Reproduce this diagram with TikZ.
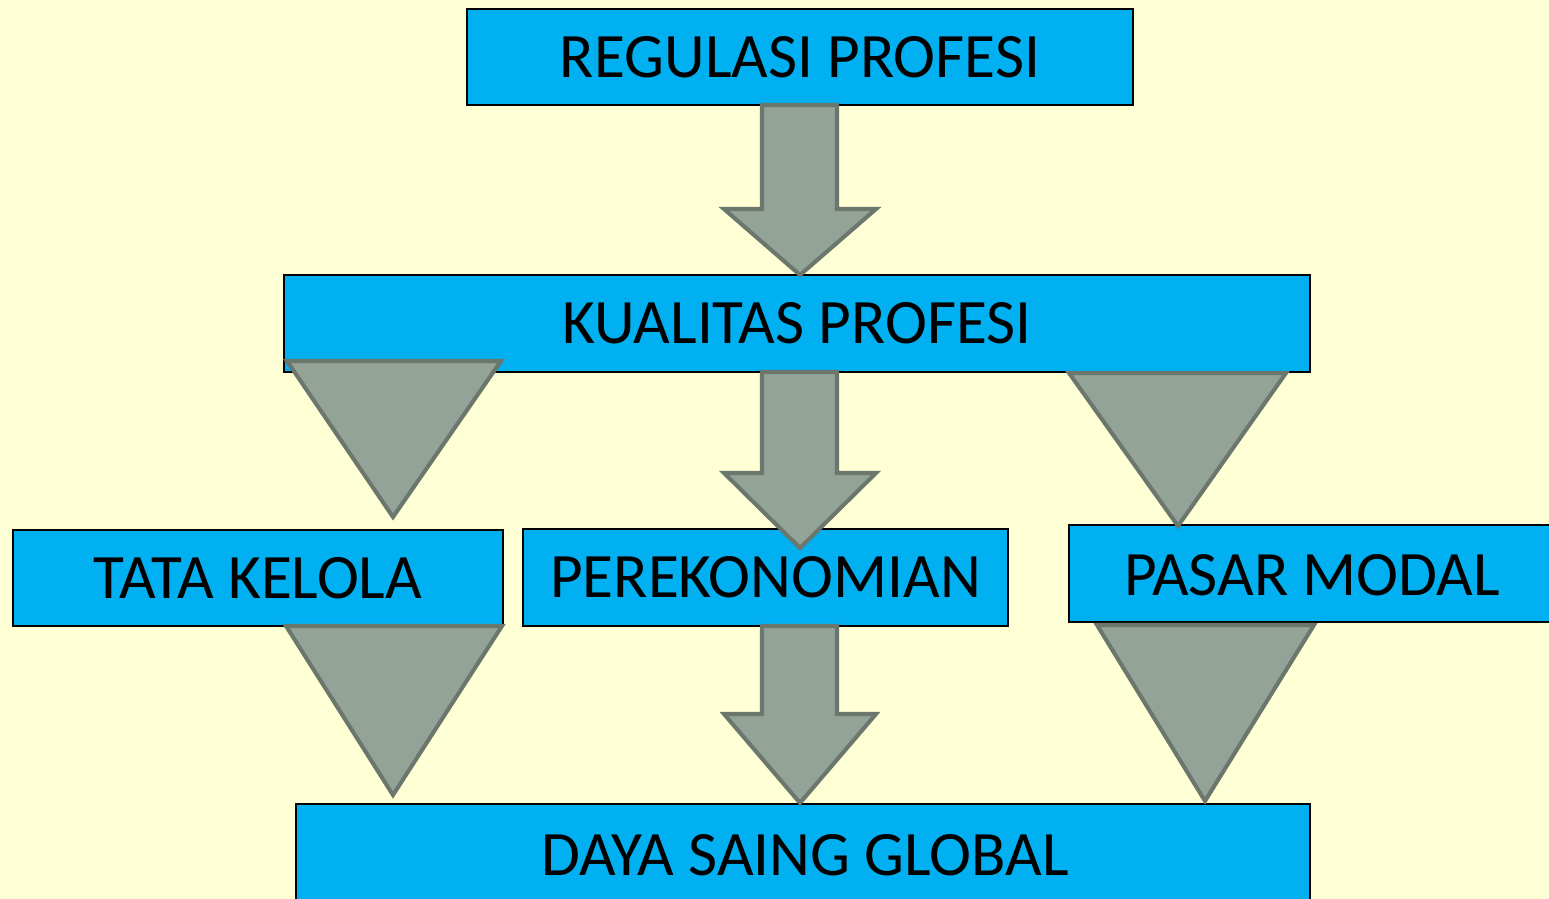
\documentclass[tikz,border=0pt]{standalone}
\usepackage{fontspec}
\setmainfont{Carlito}
\definecolor{bg}{HTML}{FFFFD5}
\definecolor{boxc}{HTML}{00B0F0}
\definecolor{arrf}{HTML}{93A397}
\definecolor{arrd}{HTML}{6B776D}
\tikzset{
  box/.style={draw=black, line width=1pt, fill=boxc, inner sep=0pt, font=\fontsize{36}{40}\selectfont, text=black},
  blk/.style={draw=arrd, fill=arrf, line width=2.3pt, line join=miter}
}
\begin{document}
\begin{tikzpicture}[x=0.02cm, y=-0.02cm]
\useasboundingbox (0,0) rectangle (1549,899);
\clip (0,0) rectangle (1549,899);
\fill[bg] (0,0) rectangle (1549,899);
% boxes
\node[box, minimum width=666*0.02cm, minimum height=96*0.02cm] (reg) at (800,57) {REGULASI PROFESI};
\node[box, minimum width=1026*0.02cm, minimum height=97*0.02cm] (kual) at (797,323.5) {KUALITAS PROFESI};
\node[box, minimum width=490*0.02cm, minimum height=96*0.02cm] (tata) at (258,578) {TATA KELOLA};
\node[box, minimum width=485*0.02cm, minimum height=97*0.02cm] (pere) at (765.5,577.5) {PEREKONOMIAN};
\node[box, minimum width=490*0.02cm, minimum height=97*0.02cm, anchor=west] (pasar) at (1068,573.5) {};
\node[font=\fontsize{36}{40}\selectfont] (pasart) at (1312,575) {PASAR MODAL};
\node[box, minimum width=1014*0.02cm, minimum height=106*0.02cm] (daya) at (803,857) {};
\node[font=\fontsize{36}{40}\selectfont] (dayat) at (805,855) {DAYA SAING GLOBAL};
% block arrows
\draw[blk] (762,105) -- (837,105) -- (837,209) -- (876,209) -- (800,275) -- (724,209) -- (762,209) -- cycle;
\draw[blk] (762,372) -- (837,372) -- (837,473) -- (876,473) -- (800,548) -- (724,473) -- (762,473) -- cycle;
\draw[blk] (762,626) -- (837,626) -- (837,714) -- (876,714) -- (800,803) -- (724,714) -- (762,714) -- cycle;
% triangles
\draw[blk] (287,361) -- (501,361) -- (393,517) -- cycle;
\draw[blk] (1069,373) -- (1286,373) -- (1178,526) -- cycle;
\draw[blk] (286,626) -- (502,626) -- (393,795) -- cycle;
\draw[blk] (1097,625) -- (1314,625) -- (1205,801) -- cycle;
\end{tikzpicture}
\end{document}
